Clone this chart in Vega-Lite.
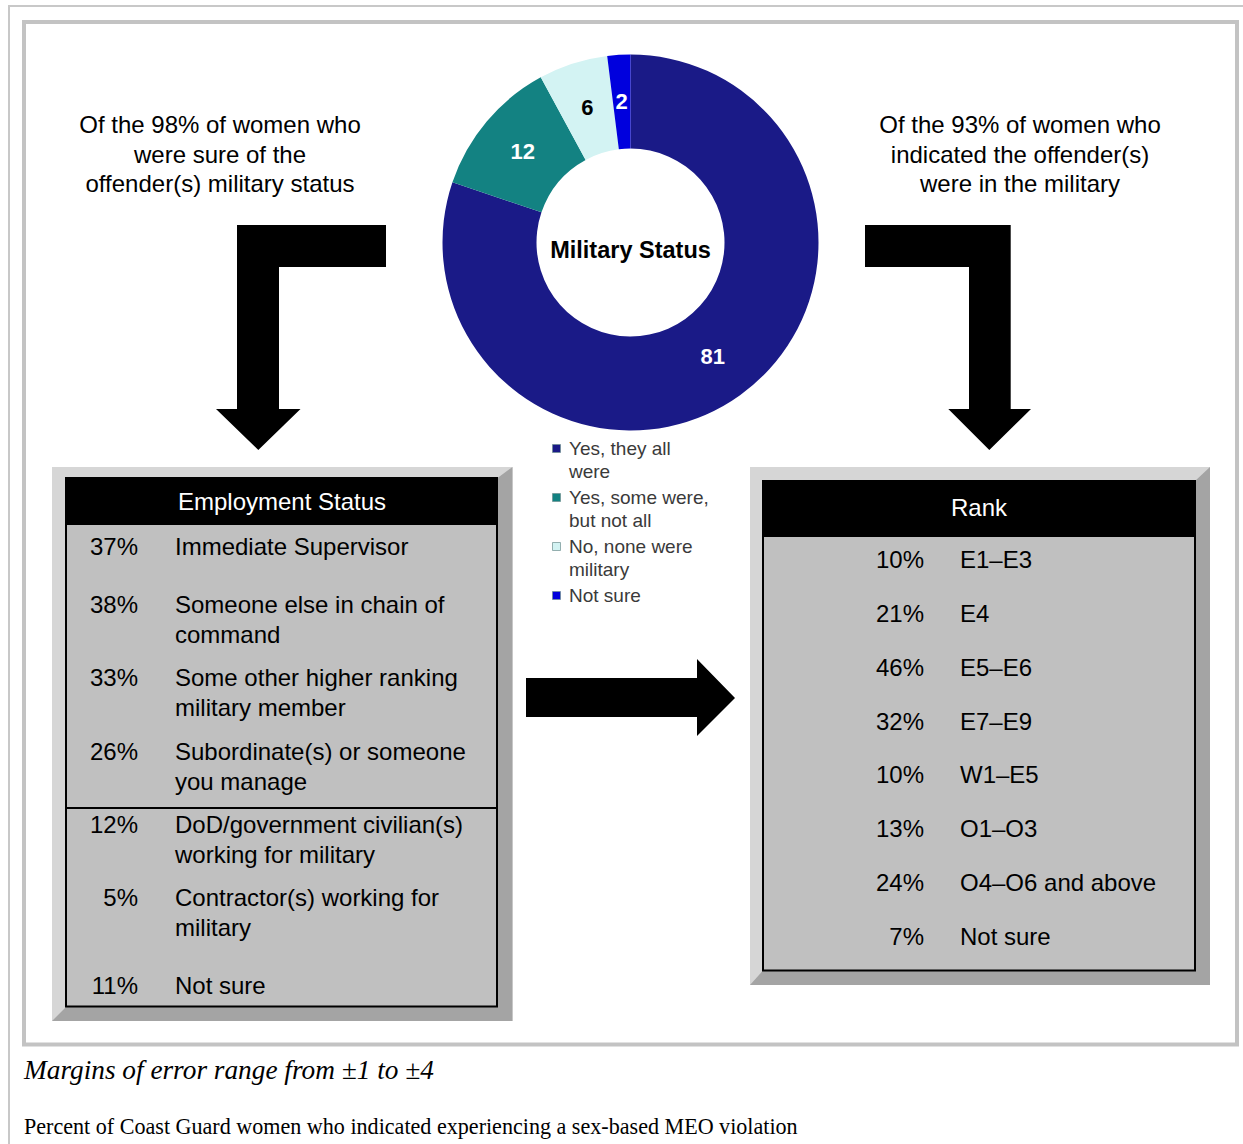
{
  "$schema": "https://vega.github.io/schema/vega-lite/v6.json",
  "width": 1243,
  "height": 1144,
  "padding": 0,
  "autosize": {"type": "none"},
  "background": "white",
  "config": {
    "view": {"stroke": null},
    "text": {"font": "Liberation Sans"},
    "style": {"guide-label": {"lineHeight": 23}}
  },
  "datasets": {
    "tableNames": [{"table": "Employment Status"}, {"table": "Rank"}],
    "tables": [
      {"table": "Employment Status", "item": "Immediate Supervisor", "pct": 0.37},
      {"table": "Employment Status", "item": "Someone else in chain of\ncommand", "pct": 0.38},
      {"table": "Employment Status", "item": "Some other higher ranking\nmilitary member", "pct": 0.33},
      {"table": "Employment Status", "item": "Subordinate(s) or someone\nyou manage", "pct": 0.26},
      {"table": "Employment Status", "item": "DoD/government civilian(s)\nworking for military", "pct": 0.12},
      {"table": "Employment Status", "item": "Contractor(s) working for\nmilitary", "pct": 0.05},
      {"table": "Employment Status", "item": "Not sure", "pct": 0.11},
      {"table": "Rank", "item": "E1–E3", "pct": 0.10},
      {"table": "Rank", "item": "E4", "pct": 0.21},
      {"table": "Rank", "item": "E5–E6", "pct": 0.46},
      {"table": "Rank", "item": "E7–E9", "pct": 0.32},
      {"table": "Rank", "item": "W1–E5", "pct": 0.10},
      {"table": "Rank", "item": "O1–O3", "pct": 0.13},
      {"table": "Rank", "item": "O4–O6 and above", "pct": 0.24},
      {"table": "Rank", "item": "Not sure", "pct": 0.07}
    ],
    "status": [
      {"question": "Military Status", "status": "Yes, they all were", "pct": 81},
      {"question": "Military Status", "status": "Yes, some were, but not all", "pct": 12},
      {"question": "Military Status", "status": "No, none were military", "pct": 6},
      {"question": "Military Status", "status": "Not sure", "pct": 2}
    ]
  },
  "layer": [
    {
      "data": {"values": [{"frame": "page"}]},
      "mark": {"type": "point", "shape": "M-612.5,580V-566H630", "size": 4, "filled": false, "fill": "transparent", "fillOpacity": 0, "stroke": "#c8c8c8", "strokeWidth": 2, "opacity": 1}
    },
    {
      "data": {"values": [{"frame": "figure"}]},
      "mark": {"type": "point", "shape": "M-597.5,-550H615.5V472.5H-597.5Z", "size": 4, "filled": false, "fill": "transparent", "fillOpacity": 0, "stroke": "#c3c3c3", "strokeWidth": 4, "opacity": 1}
    },
    {
      "data": {"name": "tableNames"},
      "mark": {"type": "point", "size": 4, "filled": true, "fill": "#d6d6d6", "strokeWidth": 0, "opacity": 1},
      "encoding": {
        "shape": {"field": "table", "type": "nominal", "legend": null,
          "scale": {"domain": ["Employment Status", "Rank"], "range": ["M-569.5,-105H-109V449H-569.5Z", "M128.5,-105H588.5V413H128.5Z"]}}
      }
    },
    {
      "data": {"name": "tableNames"},
      "mark": {"type": "point", "size": 4, "filled": true, "fill": "#a4a4a4", "strokeWidth": 0, "opacity": 1},
      "encoding": {
        "shape": {"field": "table", "type": "nominal", "legend": null,
          "scale": {"domain": ["Employment Status", "Rank"], "range": ["M-109,-105L-109,449L-569.5,449L-555.5,435L-124,435L-124,-94Z", "M588.5,-105L588.5,413L128.5,413L141.5,398.5L573.5,398.5L573.5,-91Z"]}}
      }
    },
    {
      "data": {"name": "tableNames"},
      "mark": {"type": "point", "size": 4, "filled": true, "fill": "#c0c0c0", "stroke": "black", "strokeWidth": 2, "opacity": 1},
      "encoding": {
        "shape": {"field": "table", "type": "nominal", "legend": null,
          "scale": {"domain": ["Employment Status", "Rank"], "range": ["M-555.5,-94H-124.5V434.5H-555.5Z", "M141.5,-91H573.5V398.5H141.5Z"]}}
      }
    },
    {
      "data": {"name": "tableNames"},
      "mark": {"type": "point", "size": 4, "filled": true, "fill": "black", "strokeWidth": 0, "opacity": 1},
      "encoding": {
        "shape": {"field": "table", "type": "nominal", "legend": null,
          "scale": {"domain": ["Employment Status", "Rank"], "range": ["M-555.5,-94H-124.5V-47H-555.5Z", "M141.5,-91H573.5V-35H141.5Z"]}}
      }
    },
    {
      "data": {"values": [{"divider": "military / non-military"}]},
      "mark": {"type": "point", "shape": "M-555.5,236H-124.5", "size": 4, "filled": false, "fill": "transparent", "fillOpacity": 0, "stroke": "black", "strokeWidth": 2, "opacity": 1}
    },
    {
      "data": {"values": [
        {"link": "Military Status → Employment Status"},
        {"link": "Military Status → Rank"},
        {"link": "Employment Status → Rank"}
      ]},
      "mark": {"type": "point", "size": 4, "filled": true, "fill": "black", "strokeWidth": 0, "opacity": 1},
      "encoding": {
        "shape": {"field": "link", "type": "nominal", "legend": null,
          "scale": {"domain": ["Military Status → Employment Status", "Military Status → Rank", "Employment Status → Rank"],
            "range": [
              "M-235.5,-347L-235.5,-305L-342.5,-305L-342.5,-163L-321,-163L-363.2,-122L-405.5,-163L-384.5,-163L-384.5,-347Z",
              "M243.5,-347L389.2,-347L389.2,-163L409.5,-163L367.8,-122L326.8,-163L347.5,-163L347.5,-305L243.5,-305Z",
              "M-95.5,106L75.5,106L75.5,87L113.5,126L75.5,164L75.5,145L-95.5,145Z"
            ]}}
      }
    },
    {
      "data": {"values": [
        {"side": "left", "text": "Of the 98% of women who\nwere sure of the\noffender(s) military status"},
        {"side": "right", "text": "Of the 93% of women who\nindicated the offender(s)\nwere in the military"}
      ]},
      "mark": {"type": "text", "fontSize": 24, "lineHeight": 29.5, "lineBreak": "\n", "align": "center", "baseline": "middle", "color": "black"},
      "encoding": {
        "x": {"field": "side", "type": "nominal", "axis": null, "scale": {"domain": ["left", "right"], "range": [220, 1020], "padding": 0}},
        "y": {"field": "side", "type": "nominal", "axis": null, "scale": {"domain": ["left", "right"], "range": [126, 126], "padding": 0}},
        "text": {"field": "text", "type": "nominal"}
      }
    },
    {
      "data": {"name": "status"},
      "encoding": {
        "x": {"field": "question", "type": "nominal", "axis": null, "scale": {"range": [630.5, 630.5]}},
        "y": {"field": "question", "type": "nominal", "axis": null, "scale": {"range": [242.5, 242.5]}}
      },
      "layer": [
        {
          "mark": {"type": "arc", "outerRadius": 188, "innerRadius": 94},
          "encoding": {
            "theta": {"field": "pct", "type": "quantitative", "stack": true},
            "order": {"field": "pct", "type": "quantitative", "sort": "descending"},
            "color": {
              "field": "status", "type": "nominal",
              "scale": {"domain": ["Yes, they all were", "Yes, some were, but not all", "No, none were military", "Not sure"],
                "range": ["#1a1a87", "#138282", "#d3f3f3", "#0000dd"]},
              "legend": {
                "orient": "none", "legendX": 547, "legendY": 439, "title": null, "padding": 0,
                "symbolType": "square", "symbolSize": 64, "symbolStrokeWidth": 0.7, "symbolStrokeColor": "#6f8f8f",
                "labelFont": "Liberation Sans", "labelFontSize": 19, "labelColor": "#3a3a3a",
                "labelBaseline": "middle", "labelOffset": 3, "labelLimit": 400, "rowPadding": 6,
                "labelExpr": "datum.label === 'Yes, they all were' ? ['Yes, they all', 'were'] : datum.label === 'Yes, some were, but not all' ? ['Yes, some were,', 'but not all'] : datum.label === 'No, none were military' ? ['No, none were', 'military'] : datum.label"
              }
            }
          }
        },
        {
          "mark": {"type": "text", "radius": 141, "fontSize": 22, "fontWeight": "bold", "align": "center", "baseline": "middle"},
          "encoding": {
            "theta": {"field": "pct", "type": "quantitative", "stack": true},
            "order": {"field": "pct", "type": "quantitative", "sort": "descending"},
            "text": {"field": "pct", "type": "quantitative"},
            "color": {"condition": {"test": "datum.status === 'No, none were military'", "value": "black"}, "value": "white"}
          }
        },
        {
          "transform": [{"aggregate": [{"op": "sum", "field": "pct", "as": "total"}], "groupby": ["question"]}],
          "mark": {"type": "text", "fontSize": 23.5, "fontWeight": "bold", "color": "black", "align": "center", "baseline": "middle", "dy": 8},
          "encoding": {"text": {"field": "question", "type": "nominal"}}
        }
      ]
    },
    {
      "data": {"name": "tableNames"},
      "mark": {"type": "text", "fontSize": 24, "color": "white", "align": "center", "baseline": "middle"},
      "encoding": {
        "x": {"field": "table", "type": "nominal", "axis": null, "scale": {"domain": ["Employment Status", "Rank"], "range": [282, 979], "padding": 0}},
        "y": {"field": "table", "type": "nominal", "axis": null, "scale": {"domain": ["Employment Status", "Rank"], "range": [503, 509], "padding": 0}},
        "text": {"field": "table", "type": "nominal"}
      }
    },
    {
      "data": {"name": "tables"},
      "transform": [{"filter": "datum.table === 'Employment Status'"}],
      "encoding": {
        "y": {"field": "item", "type": "nominal", "sort": null, "axis": null, "scale": {"type": "point", "range": [548, 987], "padding": 0}}
      },
      "layer": [
        {
          "mark": {"type": "text", "align": "right", "baseline": "middle", "fontSize": 24, "color": "black", "dy": {"expr": "indexof(datum.item, '\\n') >= 0 ? -15 : 0"}},
          "encoding": {
            "x": {"field": "table", "type": "nominal", "axis": null, "scale": {"range": [138, 138]}},
            "text": {"field": "pct", "type": "quantitative", "format": ".0%"}
          }
        },
        {
          "mark": {"type": "text", "align": "left", "baseline": "middle", "fontSize": 24, "color": "black", "lineBreak": "\n", "lineHeight": 30, "dy": {"expr": "indexof(datum.item, '\\n') >= 0 ? -15 : 0"}},
          "encoding": {
            "x": {"field": "table", "type": "nominal", "axis": null, "scale": {"range": [175, 175]}},
            "text": {"field": "item", "type": "nominal"}
          }
        }
      ],
      "resolve": {"scale": {"x": "independent"}}
    },
    {
      "data": {"name": "tables"},
      "transform": [{"filter": "datum.table === 'Rank'"}],
      "encoding": {
        "y": {"field": "item", "type": "nominal", "sort": null, "axis": null, "scale": {"type": "point", "range": [561, 938], "padding": 0}}
      },
      "layer": [
        {
          "mark": {"type": "text", "align": "right", "baseline": "middle", "fontSize": 24, "color": "black"},
          "encoding": {
            "x": {"field": "table", "type": "nominal", "axis": null, "scale": {"range": [924, 924]}},
            "text": {"field": "pct", "type": "quantitative", "format": ".0%"}
          }
        },
        {
          "mark": {"type": "text", "align": "left", "baseline": "middle", "fontSize": 24, "color": "black"},
          "encoding": {
            "x": {"field": "table", "type": "nominal", "axis": null, "scale": {"range": [960, 960]}},
            "text": {"field": "item", "type": "nominal"}
          }
        }
      ],
      "resolve": {"scale": {"x": "independent"}}
    },
    {
      "data": {"values": [
        {"kind": "note", "text": "Margins of error range from ±1 to ±4"},
        {"kind": "caption", "text": "Percent of Coast Guard women who indicated experiencing a sex-based MEO violation"}
      ]},
      "encoding": {
        "x": {"field": "kind", "type": "nominal", "axis": null, "scale": {"domain": ["note", "caption"], "range": [24, 24], "padding": 0}},
        "y": {"field": "kind", "type": "nominal", "axis": null, "scale": {"domain": ["note", "caption"], "range": [1071, 1127], "padding": 0}},
        "text": {"field": "text", "type": "nominal"}
      },
      "layer": [
        {
          "transform": [{"filter": "datum.kind === 'note'"}],
          "mark": {"type": "text", "font": "Liberation Serif", "fontStyle": "italic", "fontSize": 27.3, "align": "left", "baseline": "middle", "color": "black"}
        },
        {
          "transform": [{"filter": "datum.kind === 'caption'"}],
          "mark": {"type": "text", "font": "Liberation Serif", "fontSize": 22.1, "align": "left", "baseline": "middle", "color": "black"}
        }
      ]
    }
  ],
  "resolve": {"scale": {"x": "independent", "y": "independent", "color": "independent", "shape": "independent", "theta": "independent"}}
}
